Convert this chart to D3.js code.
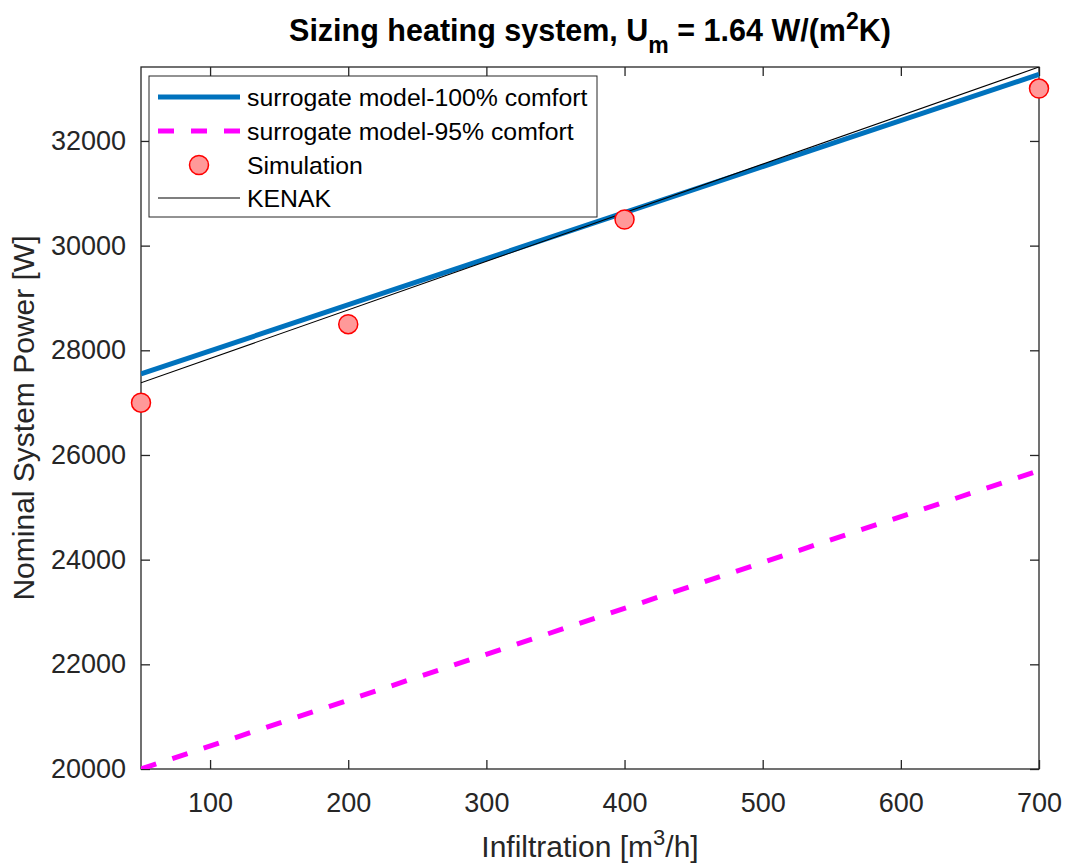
<!DOCTYPE html>
<html>
<head>
<meta charset="utf-8">
<script src="https://cdn.jsdelivr.net/npm/d3@7"></script>
<style>
  body { margin: 0; background: #fff; }
  svg { font-family: "Liberation Sans", Arial, sans-serif; }
</style>
</head>
<body>
<script>
// line end points (x = infiltration)
var lineX = [50, 700];
var surrogate100 = [27550, 33270];
var surrogate95 = [20000, 25700];
var kenak = [27380, 33413];

// simulation points
var simX = [50, 200, 400, 700];
var simY = [27000, 28500, 30500, 33000];

var xTicks = [100, 200, 300, 400, 500, 600, 700];
var yTicks = [20000, 22000, 24000, 26000, 28000, 30000, 32000];

var legendNames = ['surrogate model-100% comfort', 'surrogate model-95% comfort', 'Simulation', 'KENAK'];

var width = 1067;
var height = 865;
var margin = {top: 67, right: 28, bottom: 96, left: 141};
var plotW = width - margin.left - margin.right;
var plotH = height - margin.top - margin.bottom;
var axisColor = '#262626';

var svg = d3.select('body').append('svg')
  .attr('width', width)
  .attr('height', height);

var x = d3.scaleLinear().domain([50, 700]).range([0, plotW]);
var y = d3.scaleLinear().domain([20000, 33413]).range([plotH, 0]);

var g = svg.append('g')
  .attr('transform', 'translate(' + margin.left + ',' + margin.top + ')');

g.append('defs').append('clipPath').attr('id', 'clip')
  .append('rect').attr('width', plotW).attr('height', plotH);

// axes with inward ticks, plus mirrored box ticks
function styleAxis(sel) {
  sel.select('.domain').remove();
  sel.selectAll('line').attr('stroke', axisColor).attr('stroke-width', 1.3);
  sel.selectAll('text').attr('fill', axisColor).style('font-size', '27px');
}

g.append('g')
  .attr('transform', 'translate(0,' + plotH + ')')
  .call(d3.axisBottom(x).tickValues(xTicks).tickSize(-9).tickPadding(24))
  .call(styleAxis);

g.append('g')
  .call(d3.axisTop(x).tickValues(xTicks).tickSize(-9).tickFormat(''))
  .call(styleAxis);

g.append('g')
  .call(d3.axisLeft(y).tickValues(yTicks).tickSize(-9).tickPadding(15).tickFormat(d3.format('d')))
  .call(styleAxis);

g.append('g')
  .attr('transform', 'translate(' + plotW + ',0)')
  .call(d3.axisRight(y).tickValues(yTicks).tickSize(-9).tickFormat(''))
  .call(styleAxis);

g.append('rect')
  .attr('width', plotW)
  .attr('height', plotH)
  .attr('fill', 'none')
  .attr('stroke', axisColor)
  .attr('stroke-width', 1.3);

var line = d3.line()
  .x(function(d) { return x(d[0]); })
  .y(function(d) { return y(d[1]); });

var lines = g.append('g').attr('clip-path', 'url(#clip)');

lines.append('path')
  .datum(d3.zip(lineX, surrogate100))
  .attr('d', line)
  .attr('fill', 'none')
  .attr('stroke', '#0072BD')
  .attr('stroke-width', 5);

lines.append('path')
  .datum(d3.zip(lineX, surrogate95))
  .attr('d', line)
  .attr('fill', 'none')
  .attr('stroke', '#FF00FF')
  .attr('stroke-width', 5)
  .attr('stroke-dasharray', '16,17');

g.selectAll('.sim')
  .data(d3.zip(simX, simY))
  .enter().append('circle')
  .attr('class', 'sim')
  .attr('cx', function(d) { return x(d[0]); })
  .attr('cy', function(d) { return y(d[1]); })
  .attr('r', 9.5)
  .attr('fill', '#FF9999')
  .attr('stroke', '#FF0000')
  .attr('stroke-width', 1.5);

lines.append('path')
  .datum(d3.zip(lineX, kenak))
  .attr('d', line)
  .attr('fill', 'none')
  .attr('stroke', '#000')
  .attr('stroke-width', 1.1);

// legend
var legend = svg.append('g').attr('transform', 'translate(149,76)');
legend.append('rect')
  .attr('width', 448)
  .attr('height', 141)
  .attr('fill', '#fff')
  .attr('stroke', axisColor)
  .attr('stroke-width', 1);

var rowY = [21, 55, 89, 122];
legendNames.forEach(function(name, i) {
  var yy = rowY[i];
  if (i === 0) {
    legend.append('line').attr('x1', 9).attr('x2', 91).attr('y1', yy).attr('y2', yy)
      .attr('stroke', '#0072BD').attr('stroke-width', 5);
  } else if (i === 1) {
    legend.append('line').attr('x1', 9).attr('x2', 91).attr('y1', yy).attr('y2', yy)
      .attr('stroke', '#FF00FF').attr('stroke-width', 5).attr('stroke-dasharray', '16,17');
  } else if (i === 2) {
    legend.append('circle').attr('cx', 50).attr('cy', yy).attr('r', 9.5)
      .attr('fill', '#FF9999').attr('stroke', '#FF0000').attr('stroke-width', 1.5);
  } else {
    legend.append('line').attr('x1', 9).attr('x2', 91).attr('y1', yy).attr('y2', yy)
      .attr('stroke', '#000').attr('stroke-width', 1.1);
  }
  legend.append('text')
    .attr('x', 98)
    .attr('y', yy + 8.5)
    .attr('fill', '#000')
    .style('font-size', '24.8px')
    .text(name);
});

// title
var title = svg.append('text')
  .attr('x', margin.left + plotW / 2)
  .attr('y', 41)
  .attr('text-anchor', 'middle')
  .attr('fill', '#000')
  .style('font-size', '30.5px')
  .style('font-weight', 'bold');
title.append('tspan').text('Sizing heating system, U');
title.append('tspan').attr('dy', 12).style('font-size', '23px').text('m');
title.append('tspan').attr('dy', -12).text(' = 1.64 W/(m');
title.append('tspan').attr('dy', -12).style('font-size', '23px').text('2');
title.append('tspan').attr('dy', 12).text('K)');

// axis labels
var xLabel = svg.append('text')
  .attr('x', margin.left + plotW / 2)
  .attr('y', 857)
  .attr('text-anchor', 'middle')
  .attr('fill', axisColor)
  .style('font-size', '30px');
xLabel.append('tspan').text('Infiltration [m');
xLabel.append('tspan').attr('dy', -12).style('font-size', '22px').text('3');
xLabel.append('tspan').attr('dy', 12).text('/h]');

svg.append('text')
  .attr('transform', 'translate(34,' + (margin.top + plotH / 2) + ') rotate(-90)')
  .attr('text-anchor', 'middle')
  .attr('fill', axisColor)
  .style('font-size', '30px')
  .text('Nominal System Power [W]');
</script>
</body>
</html>
